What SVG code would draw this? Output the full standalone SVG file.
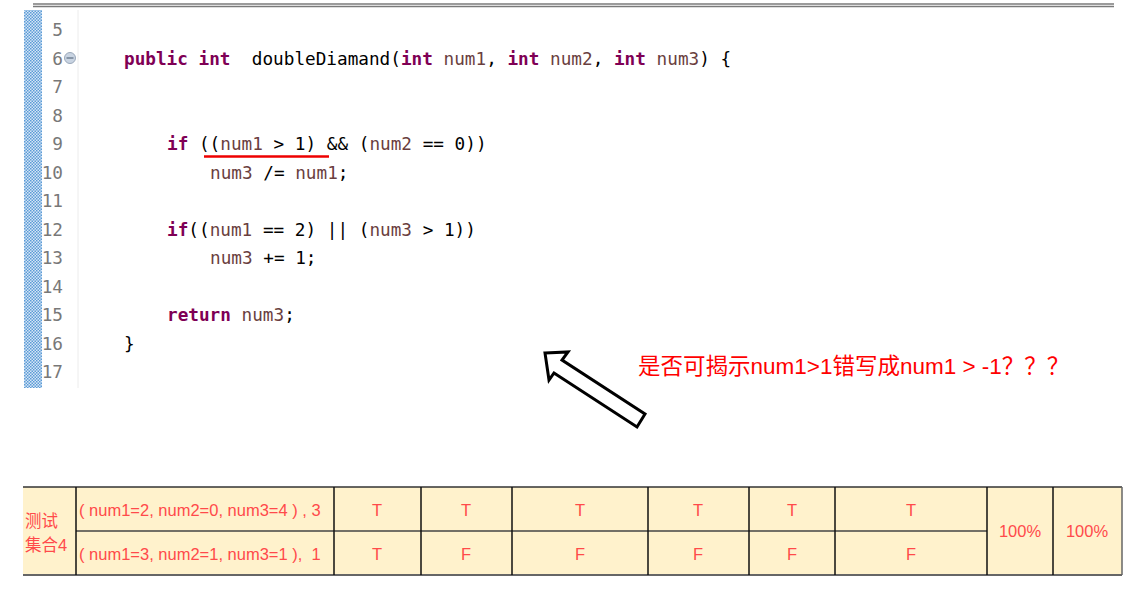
<svg xmlns="http://www.w3.org/2000/svg" width="1140" height="601" viewBox="0 0 1140 601">
<defs>
<pattern id="dots" width="3" height="3" patternUnits="userSpaceOnUse">
<rect width="3" height="3" fill="#d6e6f7"/>
<rect width="1.5" height="1.5" fill="#5b9bd5"/>
<rect x="1.5" y="1.5" width="1.5" height="1.5" fill="#5b9bd5"/>
</pattern>
<style>
.code{font-family:"DejaVu Sans Mono","Liberation Mono",monospace;font-size:17.7px;fill:#000;white-space:pre}
.kw{fill:#7f0055;font-weight:bold}
.v{fill:#6a3e3e}
.ln{font-family:"DejaVu Sans Mono","Liberation Mono",monospace;font-size:17.7px;fill:#787878;text-anchor:end}
.tt{font-family:"Liberation Sans","Noto Sans CJK SC",sans-serif;font-size:16.5px;fill:#ff4a4a;white-space:pre}
.tc{text-anchor:middle}
.vl{stroke:#111;stroke-width:1.5}
</style>
</defs>
<rect width="1140" height="601" fill="#fff"/>
<g id="editor">
<line x1="33" y1="4" x2="1114" y2="4" stroke="#7a7a7a" stroke-width="1.4"/>
<line x1="33" y1="6.5" x2="1114" y2="6.5" stroke="#7a7a7a" stroke-width="1.4"/>
<rect x="24" y="10" width="18" height="378" fill="url(#dots)"/>
<line x1="78" y1="10" x2="78" y2="388" stroke="#ececec" stroke-width="1"/>
<circle cx="70" cy="58" r="5.5" fill="#c9d4e2" stroke="#9aa8ba" stroke-width="1"/>
<line x1="66.5" y1="58" x2="73.5" y2="58" stroke="#5a6a80" stroke-width="1.2"/>
<g id="line-numbers">
<text class="ln" x="63" y="36">5</text>
<text class="ln" x="63" y="64.5">6</text>
<text class="ln" x="63" y="93">7</text>
<text class="ln" x="63" y="121.5">8</text>
<text class="ln" x="63" y="150">9</text>
<text class="ln" x="63" y="178.5">10</text>
<text class="ln" x="63" y="207">11</text>
<text class="ln" x="63" y="235.5">12</text>
<text class="ln" x="63" y="264">13</text>
<text class="ln" x="63" y="292.5">14</text>
<text class="ln" x="63" y="321">15</text>
<text class="ln" x="63" y="349.5">16</text>
<text class="ln" x="63" y="378">17</text>
</g>
<g id="code">
<text class="code" x="124" y="64.5"><tspan class="kw">public</tspan> <tspan class="kw">int</tspan>  doubleDiamand(<tspan class="kw">int</tspan> <tspan class="v">num1</tspan>, <tspan class="kw">int</tspan> <tspan class="v">num2</tspan>, <tspan class="kw">int</tspan> <tspan class="v">num3</tspan>) {</text>
<text class="code" x="167" y="150"><tspan class="kw">if</tspan> ((<tspan class="v">num1</tspan> &gt; 1) &amp;&amp; (<tspan class="v">num2</tspan> == 0))</text>
<text class="code" x="210" y="178.5"><tspan class="v">num3</tspan> /= <tspan class="v">num1</tspan>;</text>
<text class="code" x="167" y="235.5"><tspan class="kw">if</tspan>((<tspan class="v">num1</tspan> == 2) || (<tspan class="v">num3</tspan> &gt; 1))</text>
<text class="code" x="210" y="264"><tspan class="v">num3</tspan> += 1;</text>
<text class="code" x="167" y="321"><tspan class="kw">return</tspan> <tspan class="v">num3</tspan>;</text>
<text class="code" x="124" y="349.5">}</text>
</g>
</g>
<g id="connectors">
<line id="underline" x1="204" y1="156.5" x2="329" y2="156.5" stroke="#ee0000" stroke-width="2.5"/>
<polygon id="hollow-arrow" points="545,353 568,352 562,360 645,414 637,427 554,373 549,380" fill="#fff" stroke="#000" stroke-width="3" stroke-linejoin="miter"/>
</g>
<g id="annotation">
<text x="638" y="374" font-family="Liberation Sans,'Noto Sans CJK SC',sans-serif" font-size="22.5" fill="#ff0000">是否可揭示num1&gt;1错写成num1 &gt; -1？？？</text>
</g>
<g id="table">
<rect x="23" y="487" width="1099" height="88" fill="#fff2cc"/>
<line x1="23" y1="487" x2="1122" y2="487" stroke="#333" stroke-width="1.5"/>
<line x1="76" y1="531" x2="987" y2="531" stroke="#444" stroke-width="1.5"/>
<line x1="23" y1="575" x2="1122" y2="575" stroke="#666" stroke-width="2"/>
<line class="vl" x1="76" y1="487" x2="76" y2="575"/>
<line class="vl" x1="334" y1="487" x2="334" y2="575"/>
<line class="vl" x1="421" y1="487" x2="421" y2="575"/>
<line class="vl" x1="512" y1="487" x2="512" y2="575"/>
<line class="vl" x1="648" y1="487" x2="648" y2="575"/>
<line class="vl" x1="749" y1="487" x2="749" y2="575"/>
<line class="vl" x1="835" y1="487" x2="835" y2="575"/>
<line class="vl" x1="987" y1="487" x2="987" y2="575"/>
<line class="vl" x1="1053" y1="487" x2="1053" y2="575"/>
<line x1="1122" y1="487" x2="1122" y2="575" stroke="#666" stroke-width="1.5"/>
<text class="tt" x="25" y="527">测试</text>
<text class="tt" x="25" y="551">集合4</text>
<text class="tt" x="79" y="516">( num1=2, num2=0, num3=4 ) , 3</text>
<text class="tt" x="79" y="560">( num1=3, num2=1, num3=1 ),  1</text>
<text class="tt tc" x="377" y="516">T</text>
<text class="tt tc" x="466" y="516">T</text>
<text class="tt tc" x="580" y="516">T</text>
<text class="tt tc" x="698" y="516">T</text>
<text class="tt tc" x="792" y="516">T</text>
<text class="tt tc" x="911" y="516">T</text>
<text class="tt tc" x="377" y="560">T</text>
<text class="tt tc" x="466" y="560">F</text>
<text class="tt tc" x="580" y="560">F</text>
<text class="tt tc" x="698" y="560">F</text>
<text class="tt tc" x="792" y="560">F</text>
<text class="tt tc" x="911" y="560">F</text>
<text class="tt tc" x="1020" y="537">100%</text>
<text class="tt tc" x="1087" y="537">100%</text>
</g>
</svg>
